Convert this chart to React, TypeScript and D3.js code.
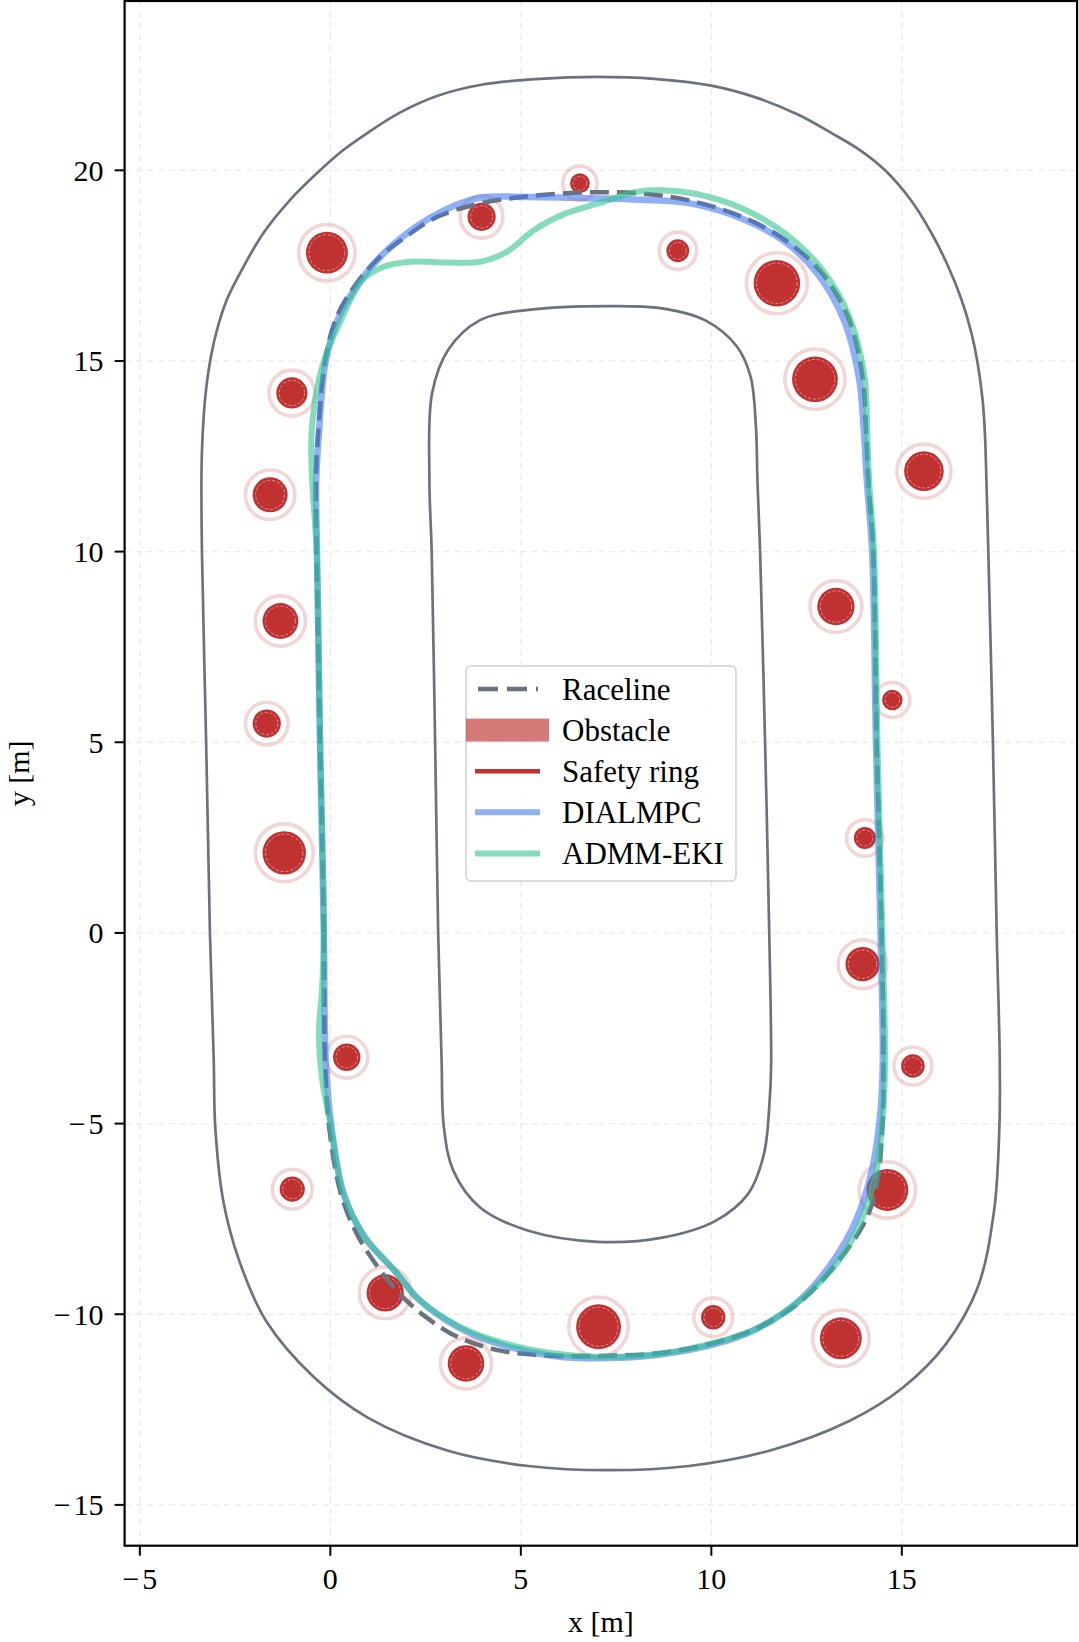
import React from "react";
import * as d3 from "d3";

const W = 1079;
const H = 1642;
const FONT = "'Liberation Serif', 'DejaVu Serif', serif";

const xTicks = [-5, 0, 5, 10, 15];
const yTicks = [-15, -10, -5, 0, 5, 10, 15, 20];

// track boundaries [x, y] in metres
const outerBoundary: [number, number][] = [
  [-3.06, -3.36], [-3.16, 0], [-3.26, 5], [-3.37, 10], [-3.38, 12.23], [-3.35, 13.1], [-3.29, 13.98],
  [-3.18, 14.85], [-3.0, 15.72], [-2.72, 16.6], [-2.28, 17.47], [-1.76, 18.35], [-1.06, 19.22],
  [-0.27, 20.0], [0.3, 20.5], [0.96, 20.97], [1.8, 21.5], [2.8, 21.95], [4.0, 22.25], [5.5, 22.4],
  [7.0, 22.45], [8.5, 22.4], [10.0, 22.22], [11.2, 21.9], [12.3, 21.45], [13.2, 20.95],
  [13.9, 20.53], [14.56, 20.0], [15.22, 19.24], [15.78, 18.35], [16.22, 17.47], [16.57, 16.6],
  [16.83, 15.72], [16.98, 15.0], [17.12, 13.98], [17.18, 13.1], [17.21, 12.23], [17.27, 10],
  [17.39, 5], [17.49, 0], [17.57, -3.36], [17.56, -5.1], [17.42, -7.29], [16.99, -9.3],
  [16.15, -10.79], [15.03, -11.92], [13.62, -12.8], [11.52, -13.58], [9.41, -13.98], [7.3, -14.09],
  [5.2, -13.98], [3.09, -13.58], [0.98, -12.71], [-0.42, -11.66], [-1.69, -10.17], [-2.39, -8.6],
  [-2.81, -7.03], [-3.02, -5.1],
];

const innerBoundary: [number, number][] = [
  [2.92, -3.36], [2.83, 0], [2.75, 5], [2.66, 10], [2.6, 11.88], [2.67, 14.15], [3.09, 15.29],
  [3.93, 16.07], [5.2, 16.34], [7.3, 16.44], [8.71, 16.38], [9.83, 16.07], [10.67, 15.38],
  [11.03, 14.59], [11.17, 13.28], [11.21, 11.88], [11.28, 10], [11.41, 5], [11.52, 0],
  [11.57, -3.36], [11.54, -4.23], [11.38, -5.8], [10.96, -6.85], [10.11, -7.55], [8.71, -7.99],
  [7.02, -8.1], [5.2, -7.81], [3.93, -7.2], [3.23, -6.24], [2.98, -5.1],
];

const raceline: [number, number][] = [
  [-0.14, -3.36], [-0.17, 0], [-0.27, 5], [-0.36, 10], [-0.38, 11.88], [-0.32, 13.1], [-0.14, 15.0],
  [0.17, 16.16], [0.7, 17.05], [1.3, 17.73], [1.97, 18.25], [2.81, 18.78], [3.93, 19.13], [5.2, 19.32],
  [6.74, 19.42], [8.15, 19.39], [9.41, 19.21], [10.81, 18.78], [11.94, 18.17], [12.92, 17.29],
  [13.62, 16.07], [13.97, 14.59], [14.06, 13.2], [14.12, 11.88], [14.25, 10], [14.34, 5], [14.47, 0],
  [14.52, -3.36], [14.49, -5.1], [14.33, -6.68], [14.04, -7.55], [13.34, -8.6], [12.36, -9.65],
  [11.24, -10.35], [10.11, -10.74], [8.71, -11.01], [7.3, -11.09], [5.9, -11.09], [4.49, -10.96],
  [3.37, -10.61], [2.53, -10.09], [1.83, -9.48], [1.26, -8.78], [0.7, -7.9], [0.28, -6.85],
  [-0.03, -5.1],
];

const dialmpc: [number, number][] = [
  [-0.12, -3.36], [-0.17, 0], [-0.27, 5], [-0.35, 10], [-0.37, 11.88], [-0.3, 13.1], [-0.12, 15.0],
  [0.2, 16.1], [0.75, 17.05], [1.4, 17.82], [2.25, 18.52], [3.09, 19.0], [3.93, 19.28], [5.2, 19.3],
  [6.74, 19.27], [8.15, 19.23], [9.41, 19.14], [10.81, 18.73], [11.94, 18.12], [12.78, 17.29],
  [13.48, 16.07], [13.87, 14.59], [14.0, 13.2], [14.08, 11.88], [14.22, 10], [14.32, 5], [14.44, 0],
  [14.5, -3.36], [14.44, -4.67], [14.21, -6.24], [13.79, -7.55], [13.2, -8.6], [12.3, -9.65],
  [11.2, -10.38], [10.11, -10.78], [8.71, -11.05], [7.3, -11.15], [5.9, -11.1], [4.49, -10.8],
  [3.37, -10.35], [2.32, -9.61], [1.69, -8.86], [0.91, -7.99], [0.35, -6.85], [0.03, -5.1],
];

const admmEki: [number, number][] = [
  [-0.22, -3.8], [-0.3, -2.6], [-0.22, -1.5], [-0.17, 0], [-0.27, 5], [-0.36, 10], [-0.49, 12.1],
  [-0.48, 13.3], [-0.2, 14.9], [0.28, 16.07], [0.84, 17.12], [1.4, 17.47], [2.11, 17.6],
  [3.09, 17.58], [3.93, 17.6], [4.63, 17.86], [5.34, 18.43], [6.18, 18.87], [7.02, 19.13],
  [8.01, 19.43], [8.71, 19.48], [9.55, 19.39], [10.81, 19.0], [11.94, 18.34], [12.92, 17.38],
  [13.62, 16.16], [14.02, 14.59], [14.09, 13.2], [14.14, 11.88], [14.27, 10], [14.36, 5], [14.49, 0],
  [14.56, -3.36], [14.51, -4.67], [14.33, -6.24], [13.97, -7.47], [13.34, -8.6], [12.36, -9.61],
  [11.24, -10.35], [10.11, -10.74], [8.71, -11.03], [7.3, -11.12], [5.9, -11.03], [4.49, -10.74],
  [3.37, -10.31], [2.32, -9.61], [1.69, -8.86], [0.91, -7.99], [0.35, -6.85], [0.0, -5.0],
];

// obstacles
const obstacleX = [-0.09, 3.97, 6.55, 9.12, 11.72, 12.72, 15.58, 13.27, 14.75, 14.03, 13.97, 15.29,
  14.62, 13.4, 10.05, 7.04, 3.56, 1.44, -1.0, 0.43, -1.21, -1.67, -1.31, -1.58, -1.01];
const obstacleY = [17.84, 18.78, 19.66, 17.89, 17.04, 14.52, 12.11, 8.56, 6.11, 2.49, -0.82, -3.49,
  -6.74, -10.63, -10.08, -10.33, -11.29, -9.44, -6.72, -3.26, 2.1, 5.49, 8.18, 11.49, 14.16];
const obstacleR = [0.55, 0.37, 0.26, 0.3, 0.61, 0.6, 0.52, 0.49, 0.27, 0.29, 0.45, 0.31,
  0.55, 0.55, 0.32, 0.59, 0.48, 0.49, 0.33, 0.36, 0.57, 0.37, 0.47, 0.46, 0.41];
const safetyMargin = 0.19;

const legendLabels = ["Raceline", "Obstacle", "Safety ring", "DIALMPC", "ADMM-EKI"];

const GRAY = "#6c727d";
const RED = "#c03131";
const BLUE = "#447bee";
const GREEN = "#34c58f";

function TickText({ v }: { v: number }) {
  if (v >= 0) return <>{String(v)}</>;
  return (
    <>
      <tspan>{"\u2212"}</tspan>
      <tspan dx={3}>{String(Math.abs(v))}</tspan>
    </>
  );
}

export default function App() {
  const left = 124.6, right = 1077.1, top = 1, bottom = 1545.7;
  const x = d3.scaleLinear().domain([-5.4, 19.6]).range([left, right]);
  const y = d3.scaleLinear().domain([-16.07, 24.44]).range([bottom, top]);
  const loop = d3
    .line<[number, number]>()
    .x((d) => x(d[0]))
    .y((d) => y(d[1]))
    .curve(d3.curveCatmullRomClosed.alpha(0.5));
  const pxPerM = x(1) - x(0);

  const lx0 = 466, ly0 = 666;
  const rowY = (i: number) => 689 + i * 41.1;

  return (
    <svg width={W} height={H} style={{ position: "absolute", left: 0, top: 0, background: "#fff" }}
      fontFamily={FONT}>
      <defs>
        <clipPath id="plotArea">
          <rect x={left} y={top} width={right - left} height={bottom - top} />
        </clipPath>
      </defs>
      <rect x={0} y={0} width={W} height={H} fill="#fff" />

      {/* grid */}
      <g stroke="#ebebeb" strokeWidth={1.3} strokeDasharray="6 5">
        {xTicks.map((t) => (
          <line key={"gx" + t} x1={x(t)} x2={x(t)} y1={top} y2={bottom} />
        ))}
        {yTicks.map((t) => (
          <line key={"gy" + t} y1={y(t)} y2={y(t)} x1={left} x2={right} />
        ))}
      </g>

      <g clipPath="url(#plotArea)">
        {/* track */}
        <path d={loop(outerBoundary) || ""} fill="none" stroke={GRAY} strokeWidth={2.7} />
        <path d={loop(innerBoundary) || ""} fill="none" stroke={GRAY} strokeWidth={2.7} />

        {/* obstacles */}
        {obstacleX.map((ox, i) => (
          <g key={"ob" + i}>
            <circle cx={x(ox)} cy={y(obstacleY[i])} r={(obstacleR[i] + safetyMargin) * pxPerM}
              fill="none" stroke={RED} strokeOpacity={0.2} strokeWidth={3.6} />
            <circle cx={x(ox)} cy={y(obstacleY[i])} r={obstacleR[i] * pxPerM} fill={RED} />
            <circle cx={x(ox)} cy={y(obstacleY[i])} r={obstacleR[i] * pxPerM - 3}
              fill="none" stroke="#fff" strokeOpacity={0.55} strokeWidth={0.8} strokeDasharray="3 2" />
          </g>
        ))}

        {/* raceline and trajectories */}
        <path d={loop(raceline) || ""} fill="none" stroke={GRAY} strokeWidth={4.5} strokeDasharray="19 8" />
        <path d={loop(dialmpc) || ""} fill="none" stroke={BLUE} strokeOpacity={0.6} strokeWidth={6.5}
          strokeLinejoin="round" />
        <path d={loop(admmEki) || ""} fill="none" stroke={GREEN} strokeOpacity={0.6} strokeWidth={6}
          strokeLinejoin="round" />
      </g>

      {/* spines */}
      <rect x={left} y={top} width={right - left} height={bottom - top} fill="none" stroke="#000"
        strokeWidth={2.2} />

      {/* ticks */}
      <g stroke="#000" strokeWidth={2}>
        {xTicks.map((t) => (
          <line key={"tx" + t} x1={x(t)} x2={x(t)} y1={bottom} y2={bottom + 10} />
        ))}
        {yTicks.map((t) => (
          <line key={"ty" + t} x1={left - 10} x2={left} y1={y(t)} y2={y(t)} />
        ))}
      </g>
      <g fontSize={30} fill="#000">
        {xTicks.map((t) => (
          <text key={"lx" + t} x={x(t)} y={bottom + 43} textAnchor="middle"><TickText v={t} /></text>
        ))}
        {yTicks.map((t) => (
          <text key={"ly" + t} x={left - 21} y={y(t) + 10.5} textAnchor="end"><TickText v={t} /></text>
        ))}
      </g>

      {/* axis labels */}
      <text x={(left + right) / 2} y={1632} textAnchor="middle" fontSize={30}>x [m]</text>
      <text transform={`translate(29, ${(top + bottom) / 2}) rotate(-90)`} textAnchor="middle"
        fontSize={30}>y [m]</text>

      {/* legend */}
      <g>
        <rect x={lx0} y={ly0} width={270} height={215} rx={5} fill="#fff" fillOpacity={0.9}
          stroke="#d2d2d2" strokeWidth={1.6} />
        <line x1={478} x2={538} y1={rowY(0)} y2={rowY(0)} stroke={GRAY} strokeWidth={4.5}
          strokeDasharray="20 9" />
        <rect x={466} y={rowY(1) - 11.5} width={83} height={23} fill={RED} fillOpacity={0.65} />
        <line x1={475} x2={540} y1={rowY(2)} y2={rowY(2)} stroke={RED} strokeWidth={4.5} />
        <line x1={475} x2={540} y1={rowY(3)} y2={rowY(3)} stroke={BLUE} strokeOpacity={0.6} strokeWidth={6} />
        <line x1={475} x2={540} y1={rowY(4)} y2={rowY(4)} stroke={GREEN} strokeOpacity={0.6} strokeWidth={6} />
        {legendLabels.map((lab, i) => (
          <text key={lab} x={562} y={rowY(i) + 10.5} fontSize={31}>{lab}</text>
        ))}
      </g>
    </svg>
  );
}
